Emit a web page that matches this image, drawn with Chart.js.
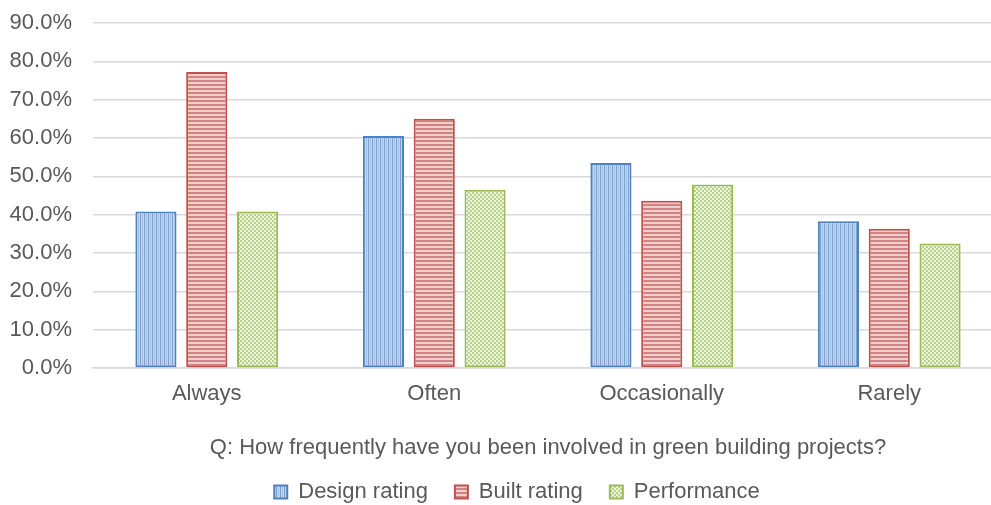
<!DOCTYPE html>
<html>
<head>
<meta charset="utf-8">
<script src="https://cdn.jsdelivr.net/npm/chart.js@4/dist/chart.umd.min.js"></script>
<style>
    html, body { margin: 0; padding: 0; background: #fff; overflow: hidden; }
    #chart { display: block; }
</style>
</head>
<body>
<canvas id="chart" width="1010" height="505"></canvas>
<script>
const categories = ['Always', 'Often', 'Occasionally', 'Rarely'];
const designRating = [40.8, 60.5, 53.5, 38.3];
const builtRating = [77.2, 65.0, 43.6, 36.3];
const performance = [40.8, 46.5, 47.9, 32.5];
const yTicks = [0, 10, 20, 30, 40, 50, 60, 70, 80, 90];
const axisTitle = 'Q: How frequently have you been involved in green building projects?';

const textColor = '#595959';
const fontFamily = '"Liberation Sans", Arial, sans-serif';

function makePattern(w, h, draw) {
    const c = document.createElement('canvas');
    c.width = w;
    c.height = h;
    const ctx = c.getContext('2d');
    draw(ctx);
    return ctx.createPattern(c, 'repeat');
}

// vertical stripes
const bluePattern = makePattern(4, 4, ctx => {
    ctx.fillStyle = '#c4d6ee';
    ctx.fillRect(0, 0, 4, 4);
    ctx.fillStyle = '#7f9fcf';
    ctx.fillRect(0, 0, 1, 4);
    ctx.fillStyle = '#a4bfe3';
    ctx.fillRect(2, 0, 1, 4);
});

// horizontal stripes
const redPattern = makePattern(4, 4, ctx => {
    ctx.fillStyle = '#efcfce';
    ctx.fillRect(0, 0, 4, 4);
    ctx.fillStyle = '#d08482';
    ctx.fillRect(0, 0, 4, 2);
});

// small checker
const greenPattern = makePattern(4, 4, ctx => {
    ctx.fillStyle = '#eef4e0';
    ctx.fillRect(0, 0, 4, 4);
    ctx.fillStyle = '#b9d186';
    ctx.fillRect(0, 0, 2, 2);
    ctx.fillRect(2, 2, 2, 2);
});

const commonBar = {
    borderWidth: 2,
    borderSkipped: false,
    categoryPercentage: 0.67,
    barPercentage: 0.81
};

// legend sits a bit right of the canvas centre
const legendShift = {
    id: 'legendShift',
    afterLayout(chart) {
        chart.legend.left += 26;
    }
};

new Chart(document.getElementById('chart').getContext('2d'), {
    type: 'bar',
    data: {
        labels: categories,
        datasets: [
            Object.assign({ label: 'Design rating', data: designRating, backgroundColor: bluePattern, borderColor: '#4f81bd' }, commonBar),
            Object.assign({ label: 'Built rating', data: builtRating, backgroundColor: redPattern, borderColor: '#c0504d' }, commonBar),
            Object.assign({ label: 'Performance', data: performance, backgroundColor: greenPattern, borderColor: '#9bbb59' }, commonBar)
        ]
    },
    plugins: [legendShift],
    options: {
        responsive: false,
        animation: false,
        layout: {
            padding: { left: 5, right: 7, top: 23, bottom: -8 }
        },
        plugins: {
            tooltip: { enabled: false },
            legend: {
                position: 'bottom',
                labels: {
                    color: textColor,
                    font: { family: fontFamily, size: 22 },
                    boxWidth: 13,
                    boxHeight: 13,
                    padding: 27
                }
            }
        },
        scales: {
            x: {
                afterFit: scale => {
                    scale.height = 86;
                },
                grid: { display: false, drawTicks: false },
                border: { color: '#d9d9d9', width: 1.5 },
                ticks: {
                    color: textColor,
                    font: { family: fontFamily, size: 22 },
                    padding: 13
                },
                title: {
                    display: true,
                    text: axisTitle,
                    color: textColor,
                    font: { family: fontFamily, size: 22 },
                    padding: { top: 27.4, bottom: -7.2 }
                }
            },
            y: {
                min: yTicks[0],
                max: yTicks[yTicks.length - 1],
                afterBuildTicks: scale => {
                    scale.ticks = yTicks.map(v => ({ value: v }));
                },
                afterFit: scale => {
                    scale.width = 88;
                    scale.paddingTop = 0;
                },
                grid: { color: '#d9d9d9', lineWidth: 1.5, drawTicks: false },
                border: { display: false },
                ticks: {
                    color: textColor,
                    font: { family: fontFamily, size: 22 },
                    padding: 21,
                    callback: value => value.toFixed(1) + '%'
                }
            }
        }
    }
});
</script>
</body>
</html>
